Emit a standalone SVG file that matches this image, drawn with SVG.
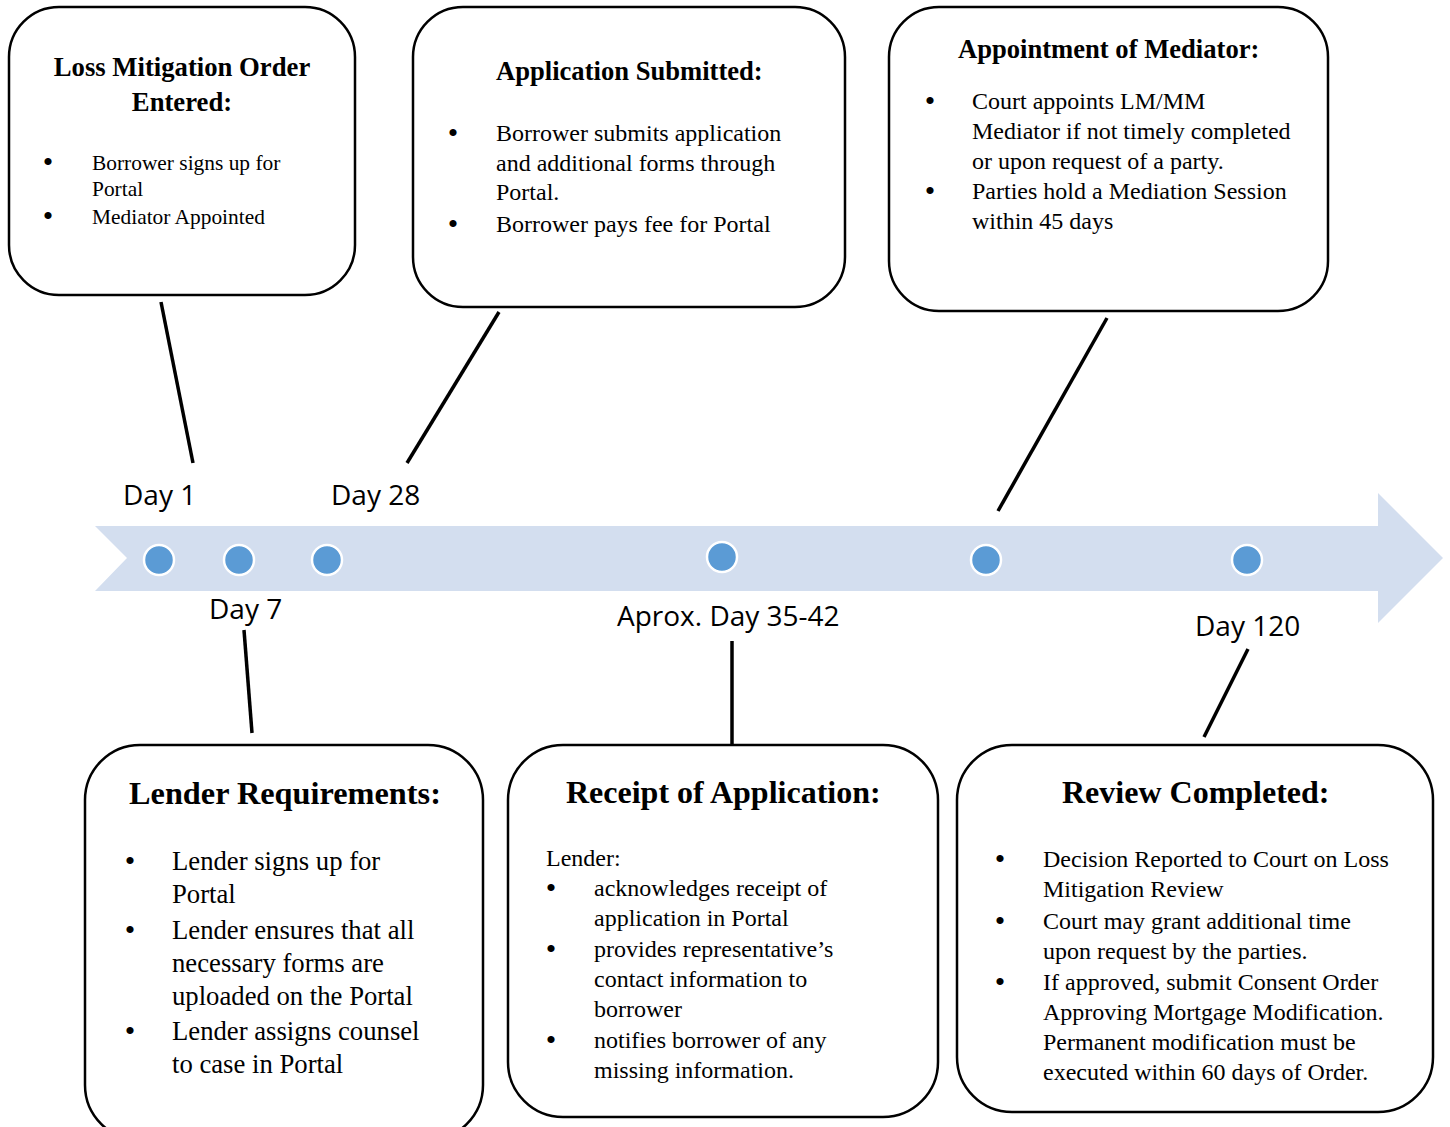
<svg xmlns="http://www.w3.org/2000/svg" width="1450" height="1127" viewBox="0 0 1450 1127">
<style>
.box{fill:#fff;stroke:#000;stroke-width:2.5}
.t{font-family:"Liberation Serif","Times New Roman",serif;font-weight:bold;fill:#000}
.b{font-family:"Liberation Serif","Times New Roman",serif;fill:#000}
.k{font-family:"Liberation Serif","Times New Roman",serif;fill:#000;font-size:30px;text-anchor:middle}
.d{font-family:"Open Sans","Liberation Sans",sans-serif;font-size:28px;fill:#000}
.dot{fill:#5B9BD5;stroke:#fff;stroke-width:2.5}
.c line{stroke:#000;stroke-width:3.5}
</style>
<rect width="1450" height="1127" fill="#fff"/>
<g id="timeline">
<polygon points="95,526 1378,526 1378,493 1443,558 1378,623 1378,591 95,591 127,558" fill="#D3DEEF"/>
<circle class="dot" cx="159" cy="560" r="15"/>
<circle class="dot" cx="239" cy="560" r="15"/>
<circle class="dot" cx="327" cy="560" r="15"/>
<circle class="dot" cx="722" cy="557" r="15"/>
<circle class="dot" cx="986" cy="560" r="15"/>
<circle class="dot" cx="1247" cy="560" r="15"/>
<text class="d" x="123" y="505">Day 1</text>
<text class="d" x="331" y="505">Day 28</text>
<text class="d" x="209" y="619">Day 7</text>
<text class="d" x="617" y="626">Aprox. Day 35-42</text>
<text class="d" x="1195" y="636">Day 120</text>
</g>
<g id="connectors" class="c">
<line x1="161" y1="302" x2="193" y2="463"/>
<line x1="499" y1="312" x2="407" y2="463"/>
<line x1="1107" y1="318" x2="998" y2="511"/>
<line x1="244" y1="630" x2="252" y2="733"/>
<line x1="732" y1="641" x2="732" y2="745"/>
<line x1="1248" y1="649" x2="1204" y2="737"/>
</g>
<g id="box1">
<rect class="box" x="9" y="7" width="346" height="288" rx="50"/>
<text class="t" font-size="26.7" x="182" y="76" text-anchor="middle">Loss Mitigation Order</text>
<text class="t" font-size="26.7" x="182" y="111" text-anchor="middle">Entered:</text>
<text class="k" x="48" y="172">•</text>
<text class="k" x="48" y="226">•</text>
<g class="b" font-size="21.4">
<text x="92" y="170">Borrower signs up for</text>
<text x="92" y="196">Portal</text>
<text x="92" y="224">Mediator Appointed</text>
</g>
</g>
<g id="box2">
<rect class="box" x="413" y="7" width="432" height="300" rx="50"/>
<text class="t" font-size="26.6" x="496" y="80">Application Submitted:</text>
<text class="k" x="453" y="143">•</text>
<text class="k" x="453" y="234">•</text>
<g class="b" font-size="24">
<text x="496" y="141">Borrower submits application</text>
<text x="496" y="171">and additional forms through</text>
<text x="496" y="200">Portal.</text>
<text x="496" y="232">Borrower pays fee for Portal</text>
</g>
</g>
<g id="box3">
<rect class="box" x="889" y="7" width="439" height="304" rx="50"/>
<text class="t" font-size="26.6" x="958" y="58">Appointment of Mediator:</text>
<text class="k" x="930" y="111">•</text>
<text class="k" x="930" y="201">•</text>
<g class="b" font-size="24">
<text x="972" y="109">Court appoints LM/MM</text>
<text x="972" y="139">Mediator if not timely completed</text>
<text x="972" y="169">or upon request of a party.</text>
<text x="972" y="199">Parties hold a Mediation Session</text>
<text x="972" y="229">within 45 days</text>
</g>
</g>
<g id="box4">
<rect class="box" x="85" y="745" width="398" height="395" rx="55"/>
<text class="t" font-size="32.3" x="129" y="804">Lender Requirements:</text>
<text class="k" x="130" y="871">•</text>
<text class="k" x="130" y="940">•</text>
<text class="k" x="130" y="1041">•</text>
<g class="b" font-size="26.7">
<text x="172" y="870">Lender signs up for</text>
<text x="172" y="903">Portal</text>
<text x="172" y="939">Lender ensures that all</text>
<text x="172" y="972">necessary forms are</text>
<text x="172" y="1005">uploaded on the Portal</text>
<text x="172" y="1040">Lender assigns counsel</text>
<text x="172" y="1073">to case in Portal</text>
</g>
</g>
<g id="box5">
<rect class="box" x="508" y="745" width="430" height="372" rx="55"/>
<text class="t" font-size="32" x="566" y="803">Receipt of Application:</text>
<text class="k" x="551" y="898">•</text>
<text class="k" x="551" y="959">•</text>
<text class="k" x="551" y="1050">•</text>
<g class="b" font-size="24">
<text x="546" y="866">Lender:</text>
<text x="594" y="896">acknowledges receipt of</text>
<text x="594" y="926">application in Portal</text>
<text x="594" y="957">provides representative’s</text>
<text x="594" y="987">contact information to</text>
<text x="594" y="1017">borrower</text>
<text x="594" y="1048">notifies borrower of any</text>
<text x="594" y="1078">missing information.</text>
</g>
</g>
<g id="box6">
<rect class="box" x="957" y="745" width="476" height="367" rx="55"/>
<text class="t" font-size="32" x="1062" y="803">Review Completed:</text>
<text class="k" x="1000" y="869">•</text>
<text class="k" x="1000" y="931">•</text>
<text class="k" x="1000" y="992">•</text>
<g class="b" font-size="24">
<text x="1043" y="867">Decision Reported to Court on Loss</text>
<text x="1043" y="897">Mitigation Review</text>
<text x="1043" y="929">Court may grant additional time</text>
<text x="1043" y="959">upon request by the parties.</text>
<text x="1043" y="990">If approved, submit Consent Order</text>
<text x="1043" y="1020">Approving Mortgage Modification.</text>
<text x="1043" y="1050">Permanent modification must be</text>
<text x="1043" y="1080">executed within 60 days of Order.</text>
</g>
</g>
</svg>
